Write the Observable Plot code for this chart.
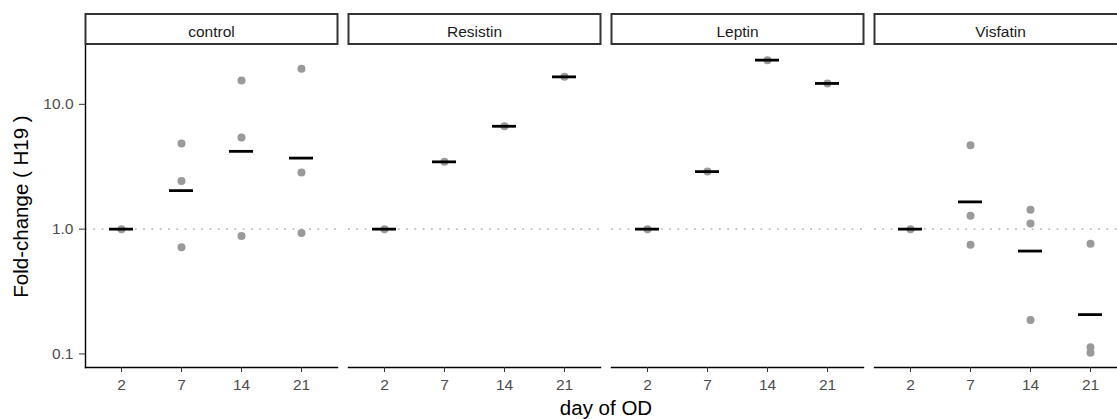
<!DOCTYPE html>
<html>
<head>
<meta charset="utf-8">
<script src="https://cdn.jsdelivr.net/npm/d3@7"></script>
<script src="https://cdn.jsdelivr.net/npm/@observablehq/plot@0.6"></script>
<style>
  html, body { margin: 0; padding: 0; background: #fff; overflow: hidden; }
  #chart svg { max-width: none !important; display: block; }
</style>
</head>
<body>
<div id="chart"></div>
<script>
// Facets and x categories
const panels = ["control", "Resistin", "Leptin", "Visfatin"];
const days = ["2", "7", "14", "21"];

// Replicate fold-change values of H19, one inner list per day (2, 7, 14, 21)
const controlValues  = [[1], [4.85, 2.43, 0.715], [15.5, 5.42, 0.882], [19.3, 2.84, 0.93]];
const resistinValues = [[1], [3.46], [6.67], [16.6]];
const leptinValues   = [[1], [2.89], [22.6], [14.7]];
const visfatinValues = [[1], [4.70, 1.28, 0.751], [1.43, 1.11, 0.187], [0.765, 0.113, 0.102]];

// Axis ticks and reference level
const yTicks = [0.1, 1, 10];
const referenceLevel = [1];

// Long-format table built from the arrays above
const seriesByPanel = [controlValues, resistinValues, leptinValues, visfatinValues];
const points = [];
panels.forEach((panel, i) =>
  seriesByPanel[i].forEach((vals, j) =>
    vals.forEach(value => points.push({panel, day: days[j], value}))));

// Geometric mean per panel and day (drawn as the black bar)
const means = d3.flatRollup(
  points,
  v => Math.exp(d3.mean(v, d => Math.log(d.value))),
  d => d.panel,
  d => d.day
).map(([panel, day, value]) => ({panel, day, value}));

// Log-scale domain with 5% padding on each side
const [lo, hi] = d3.extent(points, d => Math.log10(d.value));
const pad = (hi - lo) * 0.05;
const yDomain = [10 ** (lo - pad), 10 ** (hi + pad)];

const font = "'Liberation Sans', Arial, Helvetica, sans-serif";

const chart = Plot.plot({
  width: 1126,
  height: 419,
  marginTop: 45,
  marginBottom: 52,
  marginLeft: 85,
  marginRight: 0,
  style: {fontFamily: font, fontSize: "15.5px", background: "white", overflow: "visible"},
  fx: {domain: panels, paddingInner: 11 / 263, paddingOuter: 0},
  x: {domain: days, type: "band", paddingInner: 0.6, paddingOuter: 0.4},
  y: {type: "log", domain: yDomain},
  marks: [
    // dotted reference line at fold-change 1
    Plot.ruleY(referenceLevel, {stroke: "#bdbdbd", strokeWidth: 1.8, strokeDasharray: "1.8,6.5"}),
    // replicate points
    Plot.dot(points, {fx: "panel", x: "day", y: "value", r: 4, fill: "#9a9a9a", stroke: null}),
    // geometric mean bars
    Plot.tickY(means, {fx: "panel", x: "day", y: "value", stroke: "black", strokeWidth: 2.8}),
    // strip boxes above each panel
    Plot.frame({stroke: "#333", strokeWidth: 2, fill: "none", insetTop: -31.5, insetBottom: 323.5}),
    Plot.text(panels, {fx: d => d, text: d => d, frameAnchor: "top", dy: -8.5, lineAnchor: "bottom", fill: "#1a1a1a", fontSize: 15.5}),
    // bottom axis line of each panel, left axis line on the first panel only
    Plot.frame({anchor: "bottom", stroke: "black", strokeWidth: 1.4}),
    Plot.frame({anchor: "left", fx: [panels[0]], stroke: "black", strokeWidth: 1.4}),
    // x axis ticks
    Plot.axisX({tickSize: 5, tickPadding: 6, stroke: "#333", fill: "#4d4d4d", label: null, fontSize: 15.5}),
    // y axis ticks
    Plot.axisY({ticks: yTicks, tickFormat: d3.format(".1f"), tickSize: 6, tickPadding: 6, stroke: "#333", fill: "#4d4d4d", label: null, fontSize: 15.5}),
    // axis titles
    Plot.axisY({ticks: [], tickSize: 0, label: "Fold-change ( H19 )", labelArrow: "none", labelAnchor: "center", labelOffset: 72, fontSize: 20.5, fill: "black"}),
    Plot.axisFx({anchor: "bottom", ticks: [], tickSize: 0, label: "day of OD", labelArrow: "none", labelAnchor: "center", labelOffset: 47, fontSize: 20.5, fill: "black"})
  ]
});

document.getElementById("chart").append(chart);
</script>
</body>
</html>
